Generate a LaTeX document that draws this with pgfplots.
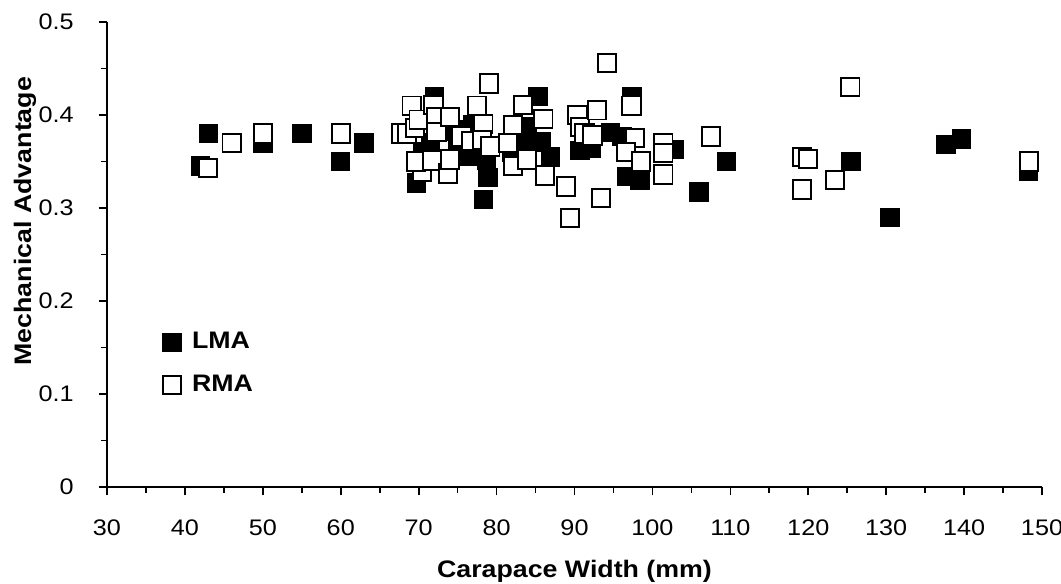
\documentclass[border=0pt]{standalone}
\usepackage{pgfplots}
\pgfplotsset{compat=1.18}
\usepackage{fontspec}
\setmainfont{Liberation Sans}[FakeStretch=1.12]

\pgfplotstableread{
x y
42.0 0.345
43.0 0.380
50.0 0.370
55.0 0.380
60.0 0.350
63.0 0.370
69.7 0.327
72.0 0.420
74.9 0.384
76.3 0.356
78.7 0.351
78.9 0.333
78.3 0.309
73.8 0.382
70.5 0.360
71.5 0.370
75.0 0.365
77.0 0.390
82.0 0.360
83.5 0.369
84.0 0.387
85.3 0.420
85.7 0.371
86.9 0.355
90.7 0.362
92.2 0.364
94.6 0.381
96.1 0.377
97.4 0.420
96.7 0.334
98.4 0.330
102.8 0.363
106.0 0.317
109.5 0.350
125.5 0.350
130.5 0.290
137.7 0.368
139.7 0.374
148.3 0.340
}\lma

\pgfplotstableread{
x y
43.0 0.343
46.0 0.370
50.0 0.380
60.0 0.380
67.8 0.380
68.5 0.380
69.1 0.410
69.5 0.386
70.0 0.395
70.4 0.339
69.7 0.350
71.9 0.411
72.3 0.398
72.3 0.382
71.7 0.351
74.0 0.398
73.8 0.337
74.0 0.352
75.5 0.377
76.7 0.372
77.5 0.410
78.3 0.390
78.1 0.373
79.0 0.434
79.2 0.366
81.5 0.370
82.1 0.389
82.1 0.345
83.4 0.411
83.9 0.352
86.0 0.396
86.2 0.335
88.9 0.323
89.4 0.289
90.4 0.400
90.7 0.387
91.3 0.380
92.3 0.378
92.9 0.405
93.4 0.311
94.2 0.456
97.3 0.410
97.8 0.375
96.6 0.360
98.5 0.350
101.4 0.370
101.4 0.359
101.4 0.336
107.5 0.377
119.2 0.355
120.0 0.353
119.2 0.320
123.4 0.330
125.4 0.430
148.3 0.350
}\rma

\begin{document}
\begin{tikzpicture}
\begin{axis}[
    at={(0,0)}, anchor=south west,
    scale only axis,
    width=336.6pt, height=167.4pt,
    xmin=30, xmax=150, ymin=0, ymax=0.5,
    axis x line=bottom, axis y line=left,
    axis line style={-, line width=0.6pt},
    xtick distance=10, minor x tick num=1,
    ytick distance=0.1, minor y tick num=1,
    tick align=outside,
    major tick length=3pt, minor tick length=2pt,
    tick style={line width=0.6pt, black},
    /pgf/number format/assume math mode=true,
    ticklabel style={font=\fontsize{8.1}{9}\selectfont},
    xticklabel style={yshift=-5.2pt},
    yticklabel style={xshift=-5.5pt},
    xlabel={\textbf{Carapace Width (mm)}},
    ylabel={\textbf{Mechanical Advantage}},
    label style={font=\fontsize{8.6}{10}\selectfont},
    xlabel style={yshift=-2pt},
    ylabel style={xshift=12pt, yshift=-6pt},
    legend style={draw=none, fill=none, at={(rel axis cs:0.05,0.265)}, anchor=west,
        font=\fontsize{8.6}{10}\selectfont\bfseries, row sep=4pt},
    legend cell align=left,
    clip=false,
]
\addplot[only marks, mark=square*, mark size=3.3pt, mark options={fill=black, draw=black}] table[x=x,y=y] {\lma};
\addlegendentry{\hspace{2pt}LMA}
\addplot[only marks, mark=square*, mark size=3.3pt, mark options={fill=white, draw=black, line width=0.7pt}] table[x=x,y=y] {\rma};
\addlegendentry{\hspace{2pt}RMA}
\end{axis}
\pgfresetboundingbox
\path[use as bounding box] (-38.52pt,-34.92pt) rectangle (343.44pt,175.32pt);
\end{tikzpicture}
\end{document}
